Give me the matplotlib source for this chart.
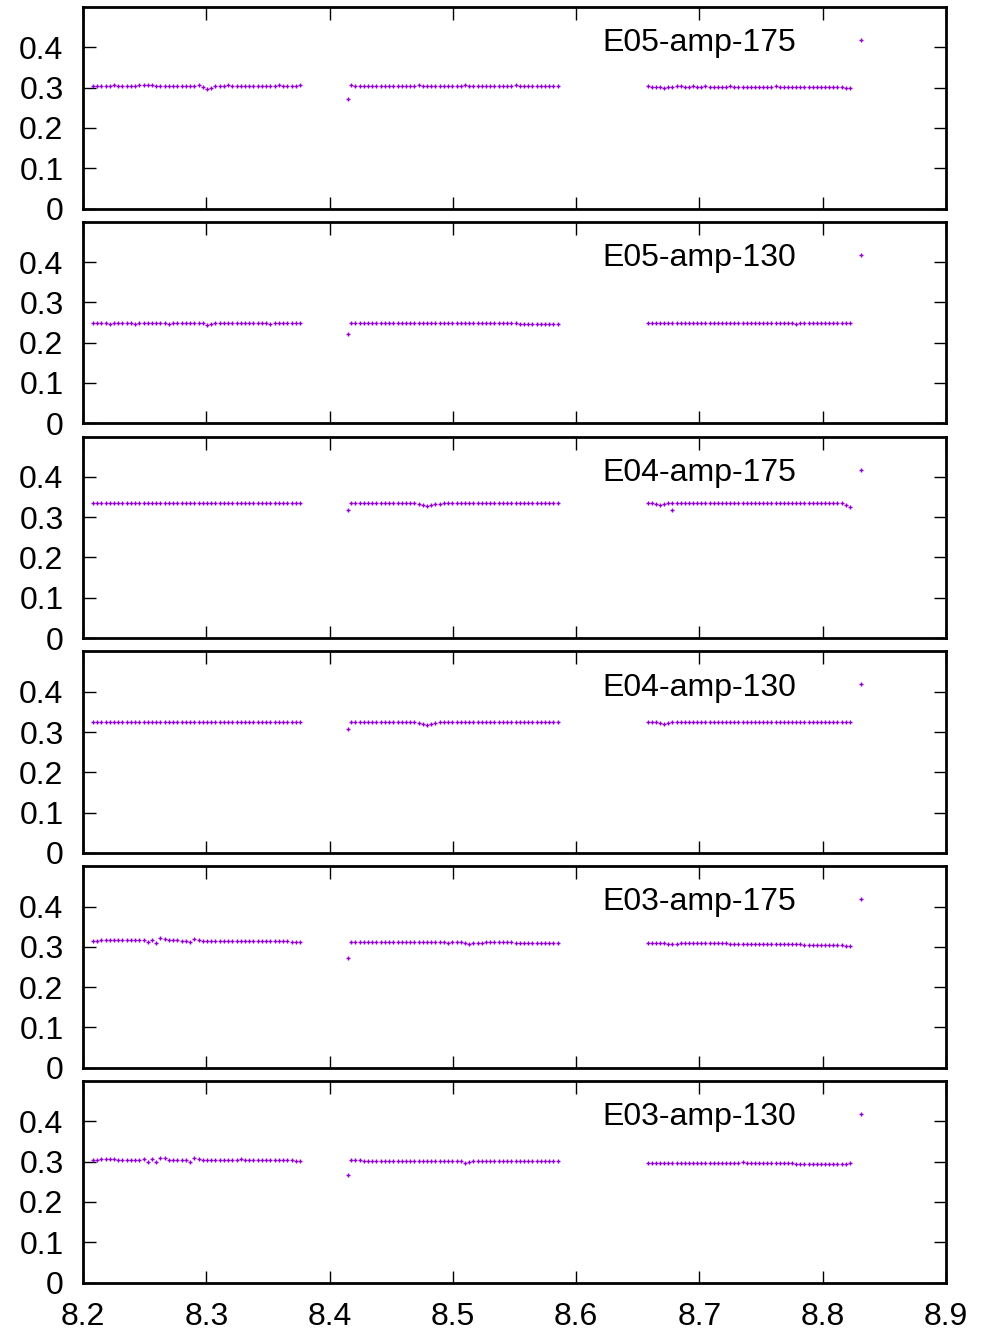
import matplotlib

matplotlib.use("Agg")

import matplotlib.pyplot as plt
import numpy as np

plt.rcParams["font.family"] = ["Liberation Sans", "DejaVu Sans"]
plt.rcParams["font.size"] = 23

# three sampled time windows (regular sampling inside each window)
SEG_X = [(8.208, 8.376), (8.4175, 8.585), (8.658, 8.822)]
X_ISOLATED = 8.415

LABELS = ["E05-amp-175", "E05-amp-130", "E04-amp-175", "E04-amp-130", "E03-amp-175", "E03-amp-130"]

# values in thousandths
p1a = [303, 304, 305, 305, 305, 306, 305, 305, 304, 305, 305, 306, 306, 306, 306, 305, 305, 304, 305, 305, 305, 305, 305, 304, 305, 307, 301, 297, 300, 304, 305, 305, 306, 305, 305, 305, 304, 305, 305, 305, 304, 305, 305, 305, 306, 305, 305, 305, 305, 306]
p1b = [306, 305, 305, 305, 305, 304, 305, 305, 305, 305, 304, 304, 305, 305, 305, 305, 306, 305, 305, 305, 304, 305, 305, 305, 304, 305, 305, 306, 305, 305, 305, 305, 305, 304, 305, 305, 305, 305, 305, 306, 305, 305, 304, 305, 305, 305, 305, 305, 305, 305]
p1c = [303, 302, 302, 301, 299, 302, 302, 303, 303, 302, 302, 303, 302, 302, 303, 302, 302, 302, 302, 302, 303, 302, 302, 302, 302, 301, 302, 302, 302, 302, 302, 303, 302, 302, 302, 301, 302, 302, 302, 302, 302, 302, 302, 301, 302, 302, 302, 302, 300, 300]

p2a = [248, 248, 248, 248, 247, 248, 248, 248, 248, 248, 247, 248, 248, 248, 248, 248, 248, 248, 247, 248, 248, 248, 248, 248, 248, 249, 248, 245, 246, 248, 248, 248, 248, 248, 249, 248, 248, 248, 248, 248, 248, 248, 247, 248, 248, 248, 248, 248, 248, 248]
p2b = [249, 249, 249, 249, 249, 249, 249, 249, 249, 249, 249, 249, 249, 249, 249, 249, 249, 250, 249, 249, 249, 249, 249, 249, 249, 249, 249, 249, 248, 249, 249, 248, 248, 248, 248, 248, 249, 248, 248, 248, 247, 247, 247, 247, 247, 247, 247, 247, 247, 247]
p2c = [248, 248, 248, 248, 248, 248, 249, 249, 249, 249, 249, 249, 249, 249, 249, 249, 248, 248, 249, 248, 248, 248, 248, 248, 248, 248, 248, 248, 248, 248, 248, 248, 248, 248, 248, 248, 246, 248, 248, 248, 248, 249, 249, 249, 249, 249, 249, 249, 250, 250]

p3a = [334, 335, 335, 335, 335, 335, 336, 336, 335, 335, 335, 335, 335, 335, 335, 336, 336, 335, 335, 335, 335, 335, 335, 335, 335, 335, 335, 335, 336, 336, 336, 336, 335, 335, 335, 335, 335, 335, 336, 335, 335, 335, 335, 335, 335, 335, 335, 335, 334, 334]
p3b = [335, 336, 336, 336, 336, 336, 335, 335, 335, 335, 335, 335, 335, 335, 335, 334, 333, 331, 328, 330, 332, 333, 334, 334, 335, 335, 335, 335, 335, 335, 335, 335, 334, 334, 334, 335, 335, 335, 335, 335, 335, 335, 335, 335, 334, 334, 334, 335, 335, 335]
p3c = [334, 334, 333, 331, 333, 334, 334, 334, 334, 335, 335, 335, 335, 334, 335, 335, 335, 335, 335, 335, 334, 334, 334, 335, 335, 335, 335, 335, 335, 335, 335, 334, 334, 334, 335, 335, 335, 335, 335, 335, 335, 335, 335, 335, 335, 335, 335, 335, 330, 325]

p4a = [325, 325, 325, 325, 325, 325, 325, 325, 325, 326, 326, 325, 325, 325, 325, 325, 325, 325, 325, 325, 325, 325, 325, 325, 325, 325, 325, 325, 325, 325, 325, 326, 326, 325, 325, 325, 325, 325, 325, 325, 325, 325, 325, 325, 325, 325, 325, 325, 326, 326]
p4b = [325, 325, 325, 325, 325, 325, 325, 325, 325, 325, 325, 325, 325, 325, 325, 324, 322, 320, 318, 320, 322, 324, 325, 325, 325, 325, 325, 324, 324, 324, 324, 324, 324, 324, 324, 325, 325, 325, 325, 325, 325, 325, 325, 325, 325, 325, 324, 324, 324, 324]
p4c = [325, 325, 324, 322, 320, 323, 324, 324, 324, 325, 325, 325, 325, 325, 325, 325, 325, 325, 325, 325, 325, 325, 325, 324, 324, 324, 324, 324, 324, 324, 324, 324, 324, 324, 324, 324, 324, 324, 324, 324, 324, 324, 324, 324, 324, 324, 324, 324, 325, 325]

p5a = [314, 315, 316, 316, 316, 316, 316, 316, 316, 316, 316, 316, 316, 312, 317, 310, 321, 319, 316, 316, 316, 315, 315, 313, 320, 316, 314, 315, 315, 315, 315, 315, 315, 315, 315, 315, 314, 315, 315, 315, 315, 315, 315, 314, 314, 314, 314, 313, 312, 312]
p5b = [313, 313, 313, 313, 313, 313, 313, 313, 313, 312, 312, 312, 312, 312, 312, 312, 312, 312, 312, 311, 311, 311, 311, 310, 311, 311, 312, 309, 308, 310, 310, 310, 311, 311, 311, 311, 311, 311, 311, 310, 310, 310, 310, 310, 310, 310, 310, 310, 310, 310]
p5c = [309, 309, 309, 309, 309, 308, 307, 308, 309, 309, 309, 310, 310, 309, 309, 309, 309, 309, 309, 309, 308, 308, 308, 308, 308, 308, 308, 308, 307, 307, 307, 307, 307, 306, 306, 306, 306, 306, 305, 305, 305, 305, 305, 305, 305, 305, 305, 305, 302, 303]

p6a = [304, 305, 306, 306, 306, 306, 305, 305, 305, 305, 305, 305, 306, 300, 306, 298, 310, 308, 305, 305, 305, 304, 304, 299, 310, 306, 304, 304, 304, 304, 303, 304, 304, 304, 304, 307, 304, 304, 304, 303, 304, 304, 303, 303, 304, 304, 304, 303, 302, 302]
p6b = [303, 303, 303, 302, 302, 302, 302, 302, 302, 302, 302, 302, 302, 302, 302, 301, 301, 301, 301, 301, 301, 301, 301, 301, 301, 301, 302, 297, 299, 301, 301, 301, 301, 301, 301, 301, 301, 301, 301, 301, 301, 301, 301, 301, 301, 301, 301, 301, 301, 301]
p6c = [297, 297, 297, 297, 297, 297, 297, 297, 297, 297, 297, 297, 297, 297, 297, 297, 297, 297, 297, 297, 297, 297, 297, 298, 297, 297, 297, 296, 296, 296, 296, 296, 296, 296, 296, 296, 295, 295, 295, 295, 295, 295, 295, 295, 295, 295, 295, 295, 295, 296]

ISOLATED = [0.271, 0.221, 0.318, 0.308, 0.273, 0.266]
# one stray sample below the E04-amp-175 third window
EXTRA_X = [None, None, 8.6775, None, None, None]
EXTRA_Y = [None, None, 0.318, None, None, None]

PANELS = [(p1a, p1b, p1c), (p2a, p2b, p2c), (p3a, p3b, p3c),
          (p4a, p4b, p4c), (p5a, p5b, p5c), (p6a, p6b, p6c)]

COLOR = "#9400D3"
W, H = 983, 1332

fig = plt.figure(figsize=(W / 100, H / 100), dpi=100)
left, right = 83, 946
top0, ph, step = 7, 201.5, 214.8

for i, (segs, label) in enumerate(zip(PANELS, LABELS)):
    top = top0 + i * step
    ax = fig.add_axes([left / W, 1 - (top + ph) / H, (right - left) / W, ph / H])

    xs, ys = [], []
    for (x0, x1), vals in zip(SEG_X, segs):
        xs.append(np.linspace(x0, x1, len(vals)))
        ys.append(np.array(vals) / 1000.0)
    xs.append([X_ISOLATED])
    ys.append([ISOLATED[i]])
    if EXTRA_X[i] is not None:
        xs.append([EXTRA_X[i]])
        ys.append([EXTRA_Y[i]])
    x = np.concatenate(xs)
    y = np.concatenate(ys)

    ax.plot(x, y, ls="none", marker="+", ms=3.5, mew=1.0, color=COLOR, label=label)

    ax.set_xlim(8.2, 8.9)
    ax.set_ylim(0, 0.5)
    ax.set_xticks(np.arange(8.2, 8.91, 0.1))
    ax.set_yticks([0, 0.1, 0.2, 0.3, 0.4])
    ax.set_yticklabels(["0", "0.1", "0.2", "0.3", "0.4"])
    ax.tick_params(direction="in", length=9, width=1.0, top=True, right=True,
                   pad=14, labelsize=23)
    ax.tick_params(axis="x", pad=14)
    if i < len(PANELS) - 1:
        ax.tick_params(axis="x", labelbottom=False)
    for sp in ax.spines.values():
        sp.set_linewidth(2.0)

    ax.legend(loc="upper right", bbox_to_anchor=(0.9385, 0.895), markerfirst=False,
              frameon=False, borderpad=0, borderaxespad=0, handlelength=2.0,
              handletextpad=1.04, fontsize=23, markerscale=0.8)

fig.savefig("out.png", dpi=100)
